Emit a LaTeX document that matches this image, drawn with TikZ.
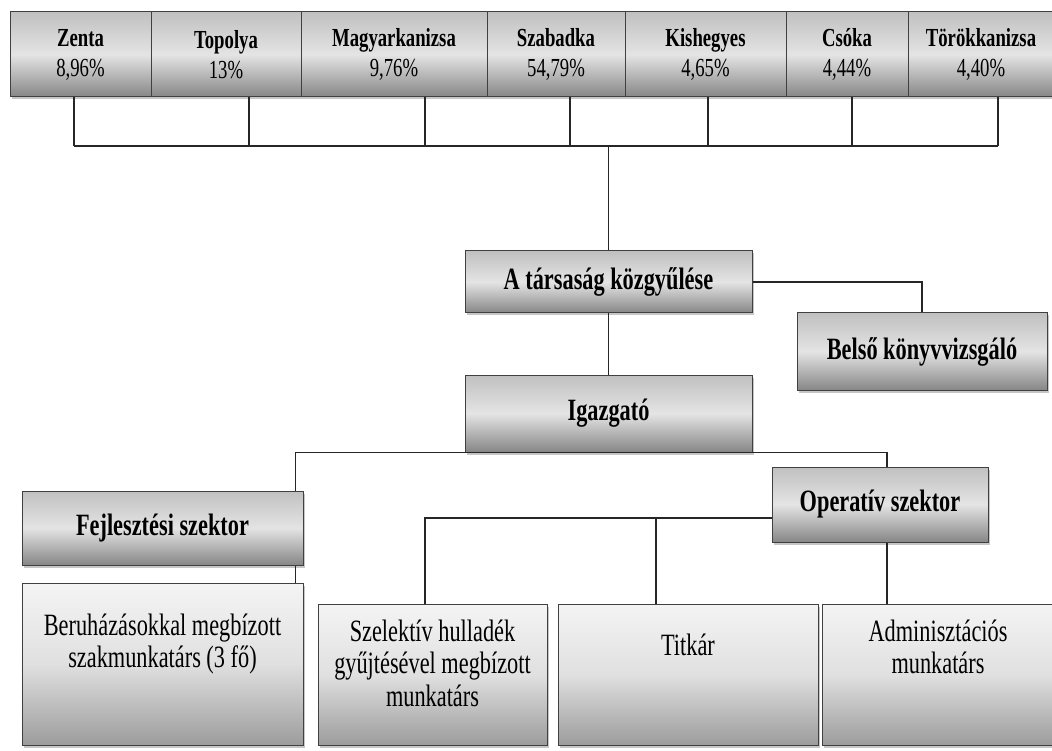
\documentclass[tikz,border=0pt]{standalone}
\usepackage{fontspec}
\setmainfont{Liberation Serif}[FakeStretch=0.72]
\usetikzlibrary{shadows}
\definecolor{bxtop}{HTML}{C0C0C0}
\definecolor{bxmid}{HTML}{E4E4E4}
\definecolor{bxbot}{HTML}{868686}
\definecolor{lowtop}{HTML}{F4F4F4}
\definecolor{lowmid}{HTML}{E0E0E0}
\definecolor{lowbot}{HTML}{9C9C9C}
\begin{document}
\begin{tikzpicture}[x=1pt,y=-1pt,
  box/.style={draw=black!75, line width=1pt, inner sep=0pt, rectangle, align=center,
    drop shadow={shadow xshift=2pt, shadow yshift=-2.5pt, opacity=0.45}},
  topbox/.style={box, top color=bxtop, bottom color=bxbot, middle color=bxmid,
    minimum height=85pt, font=\fontsize{26}{30}\selectfont},
  midbox/.style={box, top color=bxtop, bottom color=bxbot, middle color=bxmid,
    font=\fontsize{31}{34}\selectfont\bfseries},
  lowbox/.style={box, top color=lowtop, bottom color=lowbot, middle color=lowmid},
  lowtext/.style={inner sep=0pt, anchor=north, align=center, font=\fontsize{31}{32.5}\selectfont},
  conn/.style={draw=black!85, line width=1.2pt}
]
\useasboundingbox (0,0) rectangle (1052,751);

% top row
\node[topbox, minimum width=141pt] (zenta) at (80.5,54.5) {\textbf{Zenta}\\8,96\%};
\node[topbox, minimum width=150pt] (topolya) at (226,54.5) {\textbf{Topolya}\\13\%};
\node[topbox, minimum width=186pt] (magyar) at (394,54.5) {\textbf{Magyarkanizsa}\\9,76\%};
\node[topbox, minimum width=138pt] (szabadka) at (556,54.5) {\textbf{Szabadka}\\54,79\%};
\node[topbox, minimum width=161pt] (kishegyes) at (705.5,54.5) {\textbf{Kishegyes}\\4,65\%};
\node[topbox, minimum width=122pt] (csoka) at (847,54.5) {\textbf{Csóka}\\4,44\%};
\node[topbox, minimum width=146pt] (torok) at (981,54.5) {\textbf{Törökkanizsa}\\4,40\%};

% middle
\node[midbox, minimum width=287pt, minimum height=62pt] (kozgy) at (608.5,282) {A társaság közgyűlése};
\node[midbox, minimum width=250pt, minimum height=77pt] (belso) at (922,351.5) {Belső könyvvizsgáló};
\node[midbox, minimum width=287pt, minimum height=77pt] (igaz) at (608.5,413.5) {Igazgató};
\node[midbox, minimum width=281pt, minimum height=74pt] (fejl) at (162.5,528) {Fejlesztési szektor};
\node[midbox, minimum width=216pt, minimum height=75pt] (oper) at (880,504.5) {Operatív szektor};

% bottom row
\node[lowbox, minimum width=281pt, minimum height=162pt] (beruh) at (162.5,664) {};
\node[lowbox, minimum width=229pt, minimum height=141pt] (szel) at (432.5,674.5) {};
\node[lowbox, minimum width=260pt, minimum height=141pt] (titkar) at (688,674.5) {};
\node[lowbox, minimum width=232pt, minimum height=141pt] (admin) at (938,674.5) {};
\node[lowtext] (beruhT) at ([yshift=-31pt]beruh.north) {Beruházásokkal megbízott\\szakmunkatárs (3 fő)};
\node[lowtext] (szelT) at ([yshift=-16pt]szel.north) {Szelektív hulladék\\gyűjtésével megbízott\\munkatárs};
\node[lowtext] (titkarT) at ([yshift=-30pt]titkar.north) {Titkár};
\node[lowtext] (adminT) at ([yshift=-16pt]admin.north) {Adminisztációs\\munkatárs};

% top bus
\coordinate (bus) at (608.5,146);
\coordinate (c1) at ([xshift=-6.5pt]zenta.south);
\coordinate (c2) at ([xshift=23pt]topolya.south);
\coordinate (c3) at ([xshift=31pt]magyar.south);
\coordinate (c4) at ([xshift=14pt]szabadka.south);
\coordinate (c5) at ([xshift=2.5pt]kishegyes.south);
\coordinate (c6) at ([xshift=5pt]csoka.south);
\coordinate (c7) at ([xshift=17pt]torok.south);
\foreach \c in {c1,c2,c3,c4,c5,c6,c7} { \draw[conn] (\c) -- (\c |- bus); }
\draw[conn] (c1 |- bus) -- (c7 |- bus);
\draw[conn] (bus) -- (kozgy.north);

% middle connectors
\draw[conn] (kozgy.east) -| (belso.north);
\draw[conn] (kozgy.south) -- (igaz.north);
\coordinate (f1) at ([xshift=-8pt]fejl.north east);
\coordinate (f2) at ([xshift=-8pt]fejl.south east);
\coordinate (o1) at ([xshift=7pt]oper.north);
\coordinate (o2) at ([xshift=7pt]oper.south);
\draw[conn] (igaz.south) -| (f1);
\draw[conn] (igaz.south) -| (o1);
\draw[conn] (f2) -- (f2 |- beruh.north);

% operative connectors
\coordinate (ow) at ([yshift=-13.5pt]oper.west);
\coordinate (s1) at ([xshift=-7.5pt]szel.north);
\coordinate (t1) at ([xshift=-32pt]titkar.north);
\draw[conn] (ow) -| (s1);
\draw[conn] (t1 |- ow) -- (t1);
\draw[conn] (o2) -- (o2 |- admin.north);
\end{tikzpicture}
\end{document}
